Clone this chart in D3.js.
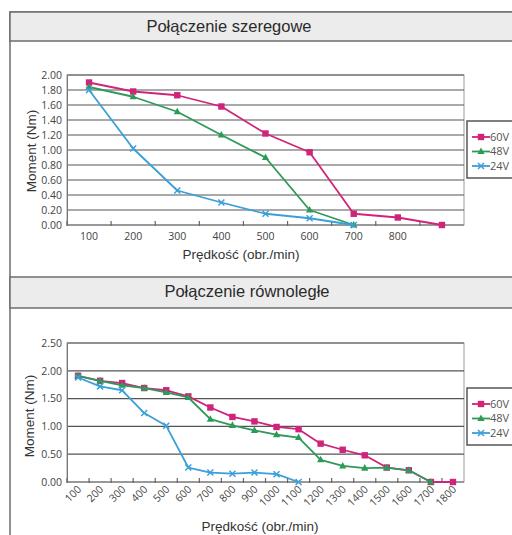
<!DOCTYPE html>
<html>
<head>
<meta charset="utf-8">
<script src="https://d3js.org/d3.v7.min.js"></script>
<style>
  body { margin: 0; background: #fff; }
  svg { display: block; }
</style>
</head>
<body>
<svg id="vis" width="512" height="535"></svg>
<script>
// ---- data ----
var speeds1 = [100, 200, 300, 400, 500, 600, 700, 800, 900];
var tickLabels1 = ["100", "200", "300", "400", "500", "600", "700", "800", ""];
var seria1_60V = [1.90, 1.78, 1.73, 1.58, 1.22, 0.97, 0.15, 0.10, 0.00];
var seria1_48V = [1.84, 1.71, 1.51, 1.20, 0.90, 0.20, 0.00];
var seria1_24V = [1.80, 1.02, 0.46, 0.30, 0.15, 0.09, 0.00];
var yTicks1 = [0, 0.2, 0.4, 0.6, 0.8, 1.0, 1.2, 1.4, 1.6, 1.8, 2.0];

var speeds2 = [100, 200, 300, 400, 500, 600, 700, 800, 900, 1000, 1100, 1200, 1300, 1400, 1500, 1600, 1700, 1800];
var tickLabels2 = ["100", "200", "300", "400", "500", "600", "700", "800", "900", "1000", "1100", "1200", "1300", "1400", "1500", "1600", "1700", "1800"];
var seria2_60V = [1.91, 1.82, 1.78, 1.69, 1.65, 1.54, 1.34, 1.17, 1.09, 0.99, 0.95, 0.69, 0.58, 0.48, 0.26, 0.21, 0.00, 0.00];
var seria2_48V = [1.91, 1.82, 1.74, 1.69, 1.61, 1.52, 1.13, 1.02, 0.93, 0.85, 0.80, 0.40, 0.29, 0.25, 0.26, 0.21, 0.00];
var seria2_24V = [1.88, 1.72, 1.65, 1.24, 1.01, 0.26, 0.17, 0.15, 0.17, 0.14, 0.00];
var yTicks2 = [0, 0.5, 1.0, 1.5, 2.0, 2.5];

var seriesNames = ["60V", "48V", "24V"];
var seriesColors = ["#d0237a", "#2e9a58", "#3b9fd9"];
var seriesMarkers = ["square", "triangle", "cross"];

var svg = d3.select("#vis");
var titleFont = "'Liberation Sans', Arial, sans-serif";
var tickFont = "'Open Sans', sans-serif";

// outer frame and grey header bands
svg.append("rect").attr("x", 10).attr("y", 12).attr("width", 520).attr("height", 540)
    .attr("fill", "#fff").attr("stroke", "#6e6e6e").attr("stroke-width", 1.5);

function header(y0, y1, text, cx, baseline) {
    svg.append("rect").attr("x", 10).attr("y", y0).attr("width", 520).attr("height", y1 - y0)
        .attr("fill", "#ececec").attr("stroke", "#6e6e6e").attr("stroke-width", 1.5);
    svg.append("text").attr("x", cx).attr("y", baseline).attr("text-anchor", "middle")
        .style("font-family", titleFont).style("font-size", "16.5px").style("fill", "#2b2b2b")
        .text(text);
}
header(12, 41, "Połączenie szeregowe", 229, 32);
header(277, 308, "Połączenie równoległe", 247, 297);

function drawChart(opt) {
    var g = svg.append("g");
    var x = d3.scaleBand().domain(opt.cats).range([opt.left, opt.right]).padding(0);
    var y = d3.scaleLinear().domain([0, opt.yMax]).range([opt.bottom, opt.top]);
    var cx = function (i) { return x(opt.cats[i]) + x.bandwidth() / 2; };

    // plot border
    g.append("rect").attr("x", opt.left).attr("y", opt.top)
        .attr("width", opt.right - opt.left).attr("height", opt.bottom - opt.top)
        .attr("fill", "none").attr("stroke", "#9a9a9a").attr("stroke-width", 1);

    // gridlines
    g.selectAll("line.grid").data(opt.yTicks.slice(1)).enter().append("line")
        .attr("class", "grid")
        .attr("x1", opt.left).attr("x2", opt.right)
        .attr("y1", function (d) { return y(d); }).attr("y2", function (d) { return y(d); })
        .attr("stroke", "#555").attr("stroke-width", 1.2);

    // y axis labels
    var yAxis = d3.axisLeft(y).tickValues(opt.yTicks).tickFormat(d3.format(".2f")).tickSize(0).tickPadding(5);
    var ya = g.append("g").attr("transform", "translate(" + opt.left + ",0)").call(yAxis);
    ya.select(".domain").attr("stroke", "#777");
    ya.selectAll("text").style("font-family", tickFont).style("font-size", "10.5px").style("fill", "#444");

    // x axis line + ticks on category boundaries
    g.append("line").attr("x1", opt.left).attr("x2", opt.right)
        .attr("y1", opt.bottom).attr("y2", opt.bottom).attr("stroke", "#666").attr("stroke-width", 1.2);
    g.selectAll("line.xt").data(opt.cats).enter().append("line").attr("class", "xt")
        .attr("x1", function (d) { return x(d); }).attr("x2", function (d) { return x(d); })
        .attr("y1", opt.bottom - 4).attr("y2", opt.bottom + 1)
        .attr("stroke", "#666").attr("stroke-width", 1.2);

    var xAxis = d3.axisBottom(x).tickSize(0).tickFormat(function (d, i) { return opt.labels[i]; });
    var xa = g.append("g").attr("transform", "translate(0," + opt.bottom + ")").call(xAxis);
    xa.select(".domain").remove();
    xa.selectAll("text").style("font-family", tickFont).style("font-size", "10.5px").style("fill", "#444");
    if (opt.rotate) {
        xa.selectAll("text").attr("text-anchor", "end").attr("dy", null).attr("y", 0)
            .attr("transform", "translate(4,8) rotate(-45)");
    } else {
        xa.selectAll("text").attr("dy", null).attr("y", 15);
    }

    // axis titles
    svg.append("text").attr("transform", "translate(" + opt.yTitleX + "," + opt.yTitleY + ") rotate(-90)")
        .attr("text-anchor", "middle").attr("dy", "0.35em")
        .style("font-family", titleFont).style("font-size", "13.5px").style("fill", "#333")
        .text("Moment (Nm)");
    svg.append("text").attr("x", opt.xTitleX).attr("y", opt.xTitleY).attr("text-anchor", "middle")
        .style("font-family", titleFont).style("font-size", "13.5px").style("fill", "#333")
        .text("Prędkość (obr./min)");

    // series
    var line = d3.line().x(function (d, i) { return cx(i); }).y(function (d) { return y(d); });
    opt.series.forEach(function (vals, s) {
        var col = seriesColors[s];
        g.append("path").datum(vals).attr("d", line).attr("fill", "none")
            .attr("stroke", col).attr("stroke-width", 1.8).attr("stroke-linejoin", "round");
        vals.forEach(function (v, i) {
            marker(g, seriesMarkers[s], cx(i), y(v), col);
        });
    });

    // legend
    var lg = svg.append("g");
    lg.append("rect").attr("x", 467).attr("y", opt.legendY).attr("width", 60).attr("height", 57)
        .attr("fill", "#fff").attr("stroke", "#555").attr("stroke-width", 1.5);
    seriesNames.forEach(function (name, s) {
        var ly = opt.legendY + 16 + s * 14.5;
        lg.append("line").attr("x1", 472).attr("x2", 490).attr("y1", ly).attr("y2", ly)
            .attr("stroke", seriesColors[s]).attr("stroke-width", 1.8);
        marker(lg, seriesMarkers[s], 481, ly, seriesColors[s]);
        lg.append("text").attr("x", 490).attr("y", ly).attr("dy", "0.35em")
            .style("font-family", tickFont).style("font-size", "11px").style("fill", "#555")
            .text(name);
    });
}

function marker(g, type, mx, my, col) {
    if (type === "square") {
        g.append("rect").attr("x", mx - 3.2).attr("y", my - 3.2).attr("width", 6.4).attr("height", 6.4).attr("fill", col);
    } else if (type === "triangle") {
        g.append("path").attr("d", "M" + mx + "," + (my - 4) + "L" + (mx + 3.6) + "," + (my + 2.6) + "L" + (mx - 3.6) + "," + (my + 2.6) + "Z").attr("fill", col);
    } else {
        g.append("path").attr("d", "M" + (mx - 3) + "," + (my - 3) + "L" + (mx + 3) + "," + (my + 3) + "M" + (mx + 3) + "," + (my - 3) + "L" + (mx - 3) + "," + (my + 3))
            .attr("stroke", col).attr("stroke-width", 1.5).attr("fill", "none");
    }
}

drawChart({
    cats: speeds1, labels: tickLabels1, yMax: 2.0, yTicks: yTicks1,
    left: 67, right: 464, top: 75, bottom: 225,
    series: [seria1_60V, seria1_48V, seria1_24V],
    yTitleX: 31, yTitleY: 151, xTitleX: 241, xTitleY: 259, legendY: 121, rotate: false
});
drawChart({
    cats: speeds2, labels: tickLabels2, yMax: 2.5, yTicks: yTicks2,
    left: 67, right: 464, top: 343, bottom: 482,
    series: [seria2_60V, seria2_48V, seria2_24V],
    yTitleX: 29, yTitleY: 416, xTitleX: 260, xTitleY: 531, legendY: 388, rotate: true
});
</script>
</body>
</html>
